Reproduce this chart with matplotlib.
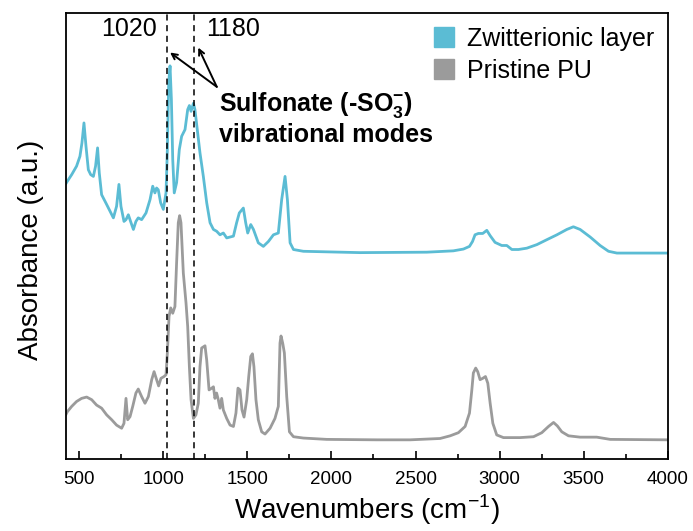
import matplotlib
matplotlib.use("Agg")
import matplotlib.pyplot as plt
from matplotlib.lines import Line2D

plt.rcParams['font.family'] = ['Liberation Sans', 'DejaVu Sans']
plt.rcParams['mathtext.fontset'] = 'custom'
plt.rcParams['mathtext.rm'] = 'Liberation Sans'
plt.rcParams['mathtext.bf'] = 'Liberation Sans:bold'

# FTIR spectra: wavenumber (cm-1) and absorbance (a.u., offset traces)
wn_zw = [421, 429, 455, 484, 504, 516, 528, 540, 554, 568, 584, 597, 609, 619,
         633, 663, 703, 722, 736, 748, 766, 778, 792, 808, 822, 837, 851, 871,
         897, 921, 937, 950, 960, 970, 984, 1000, 1016, 1024, 1032, 1040, 1048,
         1056, 1065, 1079, 1095, 1109, 1129, 1145, 1155, 1165, 1179, 1188, 1202,
         1218, 1238, 1258, 1278, 1298, 1317, 1337, 1357, 1377, 1417, 1436, 1452,
         1476, 1490, 1502, 1520, 1536, 1565, 1595, 1625, 1655, 1684, 1704, 1724,
         1738, 1754, 1774, 1833, 2170, 2567, 2725, 2785, 2821, 2839, 2854, 2874,
         2900, 2924, 2944, 2973, 3013, 3043, 3073, 3112, 3162, 3222, 3281, 3341,
         3400, 3439, 3479, 3539, 3598, 3648, 3698, 4000]
abs_zw = [0.618, 0.623, 0.638, 0.657, 0.679, 0.709, 0.754, 0.702, 0.649, 0.638,
          0.634, 0.657, 0.698, 0.642, 0.593, 0.571, 0.541, 0.567, 0.616, 0.567,
          0.533, 0.537, 0.548, 0.530, 0.515, 0.533, 0.541, 0.537, 0.552, 0.582,
          0.612, 0.597, 0.608, 0.604, 0.575, 0.560, 0.597, 0.694, 0.844, 0.882,
          0.807, 0.672, 0.597, 0.620, 0.694, 0.724, 0.739, 0.784, 0.793, 0.780,
          0.798, 0.784, 0.739, 0.687, 0.634, 0.575, 0.530, 0.515, 0.511, 0.503,
          0.507, 0.496, 0.500, 0.530, 0.552, 0.563, 0.530, 0.507, 0.526, 0.515,
          0.485, 0.477, 0.488, 0.503, 0.507, 0.582, 0.634, 0.582, 0.485, 0.470,
          0.466, 0.463, 0.464, 0.467, 0.471, 0.477, 0.488, 0.503, 0.506, 0.506,
          0.513, 0.501, 0.486, 0.479, 0.479, 0.470, 0.470, 0.473, 0.481, 0.492,
          0.503, 0.515, 0.521, 0.515, 0.498, 0.479, 0.466, 0.462, 0.462]

wn_pu = [421, 429, 455, 484, 514, 544, 574, 603, 633, 663, 693, 722, 752, 766,
         778, 788, 802, 818, 837, 851, 871, 891, 911, 931, 945, 960, 972, 986,
         1004, 1016, 1024, 1034, 1044, 1056, 1069, 1079, 1089, 1097, 1105, 1119,
         1135, 1145, 1155, 1165, 1179, 1194, 1208, 1218, 1228, 1248, 1258, 1272,
         1288, 1298, 1307, 1317, 1327, 1337, 1347, 1357, 1377, 1397, 1417, 1432,
         1444, 1456, 1468, 1480, 1496, 1508, 1520, 1530, 1539, 1551, 1565, 1585,
         1605, 1635, 1664, 1684, 1694, 1700, 1710, 1720, 1734, 1750, 1774, 1833,
         1972, 2269, 2468, 2646, 2706, 2755, 2795, 2821, 2835, 2844, 2858, 2870,
         2884, 2900, 2916, 2930, 2944, 2960, 2983, 3023, 3122, 3202, 3251, 3291,
         3321, 3344, 3370, 3410, 3479, 3578, 3658, 4000]
abs_pu = [0.100, 0.106, 0.118, 0.129, 0.136, 0.139, 0.133, 0.121, 0.114, 0.099,
          0.088, 0.076, 0.069, 0.080, 0.136, 0.088, 0.095, 0.118, 0.148, 0.157,
          0.140, 0.125, 0.140, 0.178, 0.196, 0.178, 0.164, 0.181, 0.185, 0.189,
          0.238, 0.320, 0.339, 0.327, 0.342, 0.440, 0.530, 0.546, 0.530, 0.417,
          0.350, 0.297, 0.207, 0.133, 0.091, 0.099, 0.125, 0.207, 0.249, 0.254,
          0.222, 0.155, 0.159, 0.162, 0.136, 0.148, 0.133, 0.114, 0.136, 0.110,
          0.091, 0.076, 0.073, 0.103, 0.159, 0.155, 0.110, 0.094, 0.133, 0.185,
          0.230, 0.236, 0.207, 0.133, 0.088, 0.061, 0.056, 0.069, 0.091, 0.118,
          0.260, 0.276, 0.260, 0.238, 0.140, 0.061, 0.050, 0.047, 0.044, 0.043,
          0.043, 0.046, 0.052, 0.059, 0.073, 0.103, 0.155, 0.193, 0.204, 0.196,
          0.178, 0.181, 0.185, 0.170, 0.125, 0.080, 0.054, 0.048, 0.048, 0.050,
          0.059, 0.073, 0.082, 0.074, 0.061, 0.052, 0.049, 0.049, 0.044, 0.043]

marks = [1020, 1180]
names = ['Zwitterionic layer', 'Pristine PU']
colors = ['#5bbcd4', '#9b9b9b']

fig = plt.figure(figsize=(6.93, 5.31), dpi=100)
ax = fig.add_axes([0.0952, 0.1356, 0.9635 - 0.0952, 0.975 - 0.1356])

ax.plot(wn_zw, abs_zw, color=colors[0], lw=2.0, solid_joinstyle='round')
ax.plot(wn_pu, abs_pu, color=colors[1], lw=2.0, solid_joinstyle='round')

for m in marks:
    ax.axvline(m, color='black', ls=(0, (4, 3)), lw=1.1)

ax.text(962, 0.964, '1020', ha='right', va='center', fontsize=18)
ax.text(1252, 0.964, '1180', ha='left', va='center', fontsize=18)

arrow = dict(arrowstyle='->', color='black', lw=1.4, shrinkA=0, shrinkB=0)
ax.annotate('', xy=(1040, 0.912), xytext=(1318, 0.835), arrowprops=arrow)
ax.annotate('', xy=(1208, 0.923), xytext=(1318, 0.835), arrowprops=arrow)
ax.text(1330, 0.827, 'Sulfonate (-SO$_\\mathbf{3}^\\mathbf{-}$)\nvibrational modes',
        ha='left', va='top', fontsize=18, fontweight='bold', linespacing=1.15)

handles = [Line2D([], [], ls='none', marker='s', markersize=14,
                  markerfacecolor=c, markeredgecolor=c) for c in colors]
ax.legend(handles, names, loc='upper right', frameon=False, fontsize=18,
          handletextpad=0.3, labelspacing=0.3, borderaxespad=0.15,
          handlelength=1.2)

ax.set_xlim(421, 4000)
ax.set_ylim(0, 1)
ax.set_xticks(range(500, 4001, 500))
ax.set_xticks(range(750, 4000, 500), minor=True)
ax.tick_params(axis='x', which='major', direction='in', length=6, width=1.2,
               labelsize=13.5, pad=9)
ax.tick_params(axis='x', which='minor', direction='in', length=3.5, width=1.2)
ax.set_yticks([])
for s in ax.spines.values():
    s.set_linewidth(1.3)

ax.set_xlabel('Wavenumbers (cm$^{-1}$)', fontsize=20, labelpad=3)
ax.set_ylabel('Absorbance (a.u.)', fontsize=20)
ax.yaxis.set_label_coords(-0.037, 0.47)

fig.savefig('out.png', dpi=100)
